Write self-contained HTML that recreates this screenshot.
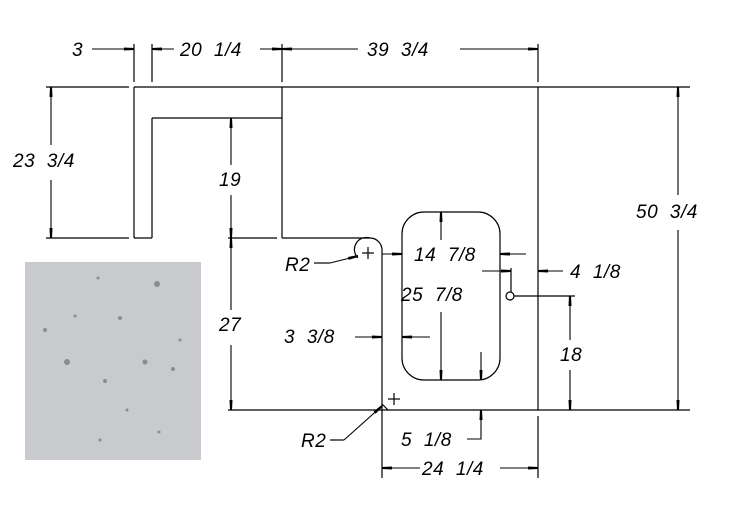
<!DOCTYPE html>
<html><head><meta charset="utf-8"><style>
html,body{margin:0;padding:0;background:#fff;}
svg{display:block;}
text{font-family:"Liberation Sans",sans-serif;font-style:italic;font-size:19px;fill:#000;letter-spacing:0.5px;word-spacing:6px;}
</style></head><body>
<svg width="736" height="517" viewBox="0 0 736 517" xmlns="http://www.w3.org/2000/svg">
<defs>
<marker id="a" viewBox="0 0 10 4" refX="10" refY="2" markerWidth="10" markerHeight="4" markerUnits="userSpaceOnUse" orient="auto"><polygon points="0,0.5 10,1 10,3 0,3.5" fill="#000"/></marker>
</defs>
<rect x="25" y="262" width="176" height="198" fill="#c8cacd"/>
<g fill="#8a8c90">
<circle cx="157" cy="284" r="3"/><circle cx="120" cy="318" r="2"/><circle cx="67" cy="362" r="3"/><circle cx="145" cy="362" r="2.5"/><circle cx="105" cy="381" r="2"/><circle cx="173" cy="369" r="2"/><circle cx="127" cy="410" r="1.5"/><circle cx="75" cy="316" r="1.5"/><circle cx="100" cy="440" r="1.5"/><circle cx="159" cy="432" r="1.5"/><circle cx="98" cy="278" r="1.5"/><circle cx="180" cy="340" r="1.5"/><circle cx="45" cy="330" r="2"/>
</g>
<g stroke="#000" stroke-width="1.2" fill="none">
<line x1="134" y1="87" x2="690" y2="87"/>
<line x1="46" y1="87" x2="129" y2="87"/>
<line x1="134" y1="87" x2="134" y2="238"/>
<line x1="152" y1="118" x2="152" y2="238"/>
<line x1="134" y1="238" x2="152" y2="238"/>
<line x1="46" y1="238" x2="129" y2="238"/>
<line x1="152" y1="118" x2="282" y2="118"/>
<line x1="282" y1="87" x2="282" y2="238"/>
<path d="M282 238 H370 A12 12 0 0 1 382 250 V478"/>
<path d="M358 258 A12 12 0 0 1 370 238"/>
<line x1="228" y1="238" x2="277" y2="238"/>
<line x1="228" y1="410" x2="690" y2="410"/>
<line x1="538" y1="87" x2="538" y2="410"/>
<line x1="538" y1="416" x2="538" y2="478"/>
<line x1="134" y1="44" x2="134" y2="82"/>
<line x1="152" y1="44" x2="152" y2="82"/>
<line x1="282" y1="44" x2="282" y2="82"/>
<line x1="538" y1="44" x2="538" y2="82"/>
<rect x="402" y="212" width="98" height="168" rx="22" ry="22"/>
<circle cx="510" cy="296" r="4"/>
<line x1="514" y1="296" x2="575" y2="296"/>
<line x1="511" y1="268" x2="511" y2="292"/>
<line x1="362" y1="253" x2="374" y2="253"/><line x1="368" y1="247" x2="368" y2="259"/>
<line x1="388" y1="399" x2="400" y2="399"/><line x1="394" y1="393" x2="394" y2="405"/>
<path d="M382 404 L388 410" />
<path d="M314 263 H330"/>
<path d="M330 440 H344"/>
</g>
<g stroke="#000" stroke-width="1.1" fill="none" marker-end="url(#a)">
<line x1="92" y1="49" x2="134" y2="49"/>
<line x1="174" y1="49" x2="152" y2="49"/>
<line x1="260" y1="49" x2="282" y2="49"/>
<line x1="358" y1="49" x2="282" y2="49"/>
<line x1="460" y1="49" x2="538" y2="49"/>
<line x1="51" y1="145" x2="51" y2="87"/>
<line x1="51" y1="180" x2="51" y2="238"/>
<line x1="231" y1="165" x2="231" y2="118"/>
<line x1="231" y1="195" x2="231" y2="238"/>
<line x1="231" y1="310" x2="231" y2="238"/>
<line x1="231" y1="345" x2="231" y2="410"/>
<line x1="678" y1="195" x2="678" y2="87"/>
<line x1="678" y1="230" x2="678" y2="410"/>
<line x1="570" y1="340" x2="570" y2="296"/>
<line x1="570" y1="370" x2="570" y2="410"/>
<line x1="441" y1="240" x2="441" y2="212"/>
<line x1="441" y1="312" x2="441" y2="380"/>
<line x1="481" y1="352" x2="481" y2="380"/>
<line x1="382" y1="254" x2="402" y2="254"/>
<line x1="526" y1="254" x2="500" y2="254"/>
<line x1="482" y1="271" x2="511" y2="271"/>
<line x1="563" y1="271" x2="538" y2="271"/>
<line x1="355" y1="337" x2="382" y2="337"/>
<line x1="430" y1="337" x2="402" y2="337"/>
<line x1="420" y1="468" x2="382" y2="468"/>
<line x1="500" y1="468" x2="538" y2="468"/>
<path d="M467 439 H481 V410"/>
<line x1="330" y1="263" x2="358" y2="256"/>
<line x1="344" y1="440" x2="382" y2="406"/>
</g>
<text x="72" y="56">3</text>
<text x="180" y="56">20 1/4</text>
<text x="367" y="56">39 3/4</text>
<text x="13" y="167">23 3/4</text>
<text x="219" y="186">19</text>
<text x="219" y="331">27</text>
<text x="636" y="218">50 3/4</text>
<text x="560" y="361">18</text>
<text x="414" y="261">14 7/8</text>
<text x="401" y="301">25 7/8</text>
<text x="284" y="343">3 3/8</text>
<text x="570" y="278">4 1/8</text>
<text x="285" y="271">R2</text>
<text x="301" y="447">R2</text>
<text x="401" y="446">5 1/8</text>
<text x="422" y="475">24 1/4</text>
</svg>
</body></html>
